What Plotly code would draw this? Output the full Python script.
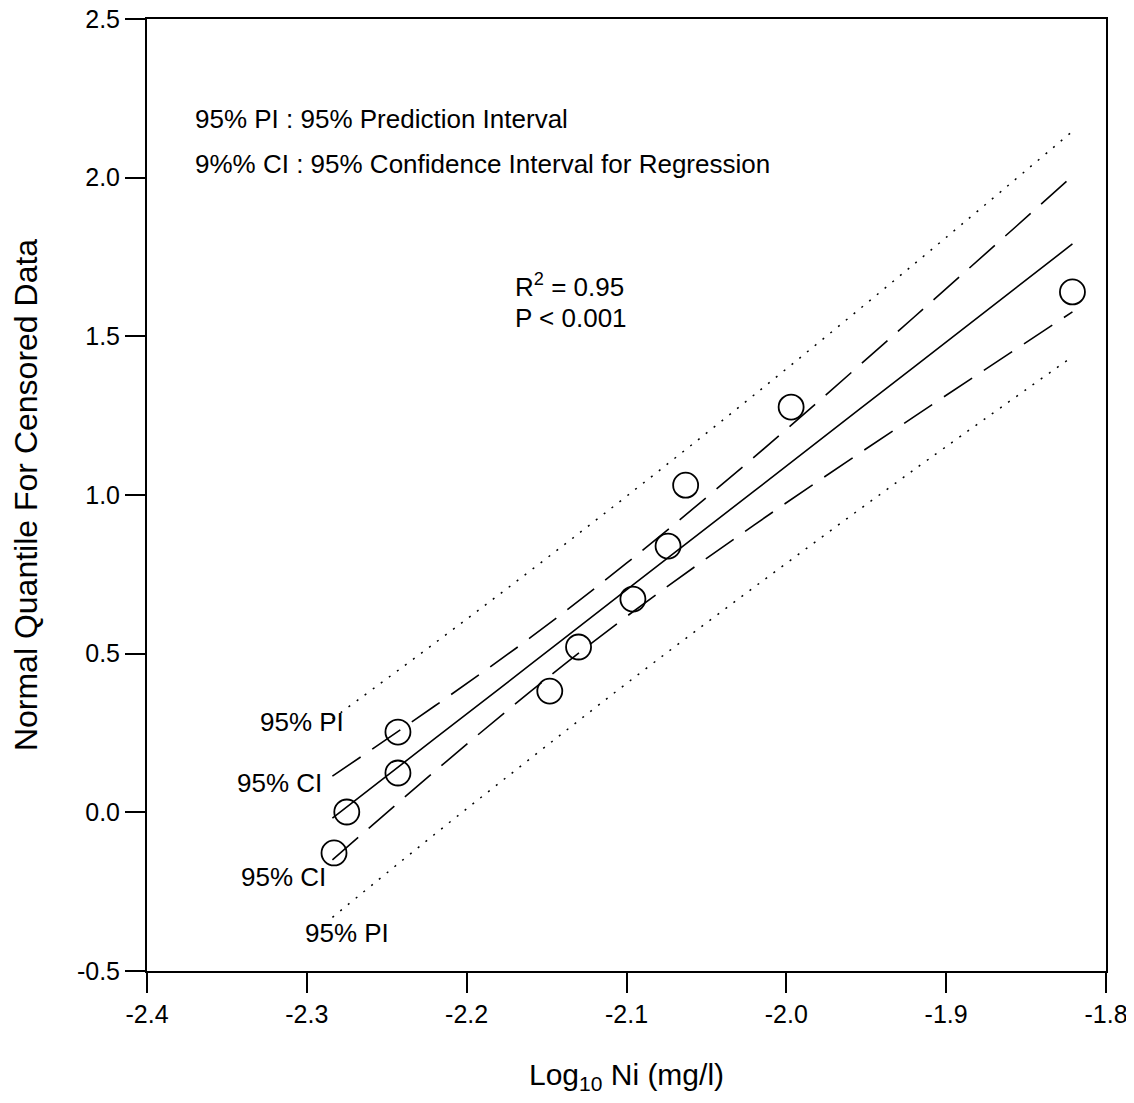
import plotly.graph_objects as go

# Observed data (log10 Ni vs normal quantile)
obs_x = [-2.243, -2.243, -2.275, -2.283, -2.148, -2.130, -2.096, -2.074, -2.063, -1.997, -1.821]
obs_y = [0.253, 0.124, 0.001, -0.128, 0.382, 0.521, 0.672, 0.839, 1.031, 1.277, 1.640]

# Curves
curve_x = [-2.284, -2.22, -2.16, -2.10, -2.02, -1.92, -1.821]
reg_y = [-0.018, 0.232, 0.466, 0.701, 1.013, 1.404, 1.791]
ci_up = [0.114, 0.335, 0.551, 0.785, 1.120, 1.561, 2.005]
ci_lo = [-0.150, 0.129, 0.381, 0.617, 0.906, 1.247, 1.577]
pi_up = [0.295, 0.533, 0.762, 0.996, 1.316, 1.728, 2.146]
pi_lo = [-0.331, -0.069, 0.170, 0.406, 0.710, 1.080, 1.436]

x_ticks = [-2.4, -2.3, -2.2, -2.1, -2.0, -1.9, -1.8]
y_ticks = [-0.5, 0.0, 0.5, 1.0, 1.5, 2.0, 2.5]

FONT = "Liberation Sans, Arial, sans-serif"

fig = go.Figure()
fig.add_trace(go.Scatter(x=curve_x, y=pi_up, mode="lines", line=dict(color="black", width=1.5, dash="2px,8px"), line_shape="spline"))
fig.add_trace(go.Scatter(x=curve_x, y=pi_lo, mode="lines", line=dict(color="black", width=1.5, dash="2px,8px"), line_shape="spline"))
fig.add_trace(go.Scatter(x=curve_x, y=ci_up, mode="lines", line=dict(color="black", width=1.6, dash="34px,14px"), line_shape="spline"))
fig.add_trace(go.Scatter(x=curve_x, y=ci_lo, mode="lines", line=dict(color="black", width=1.6, dash="34px,14px"), line_shape="spline"))
fig.add_trace(go.Scatter(x=curve_x, y=reg_y, mode="lines", line=dict(color="black", width=1.6), line_shape="spline"))
fig.add_trace(go.Scatter(x=obs_x, y=obs_y, mode="markers",
                         marker=dict(symbol="circle-open", size=25, color="black", line=dict(width=1.8, color="black"))))

# page body has an 8px margin: figure sized to fit the window, coordinates in page pixels
OFF = 8
FIG_W, FIG_H = 1134 - 2 * OFF, 1103 - 2 * OFF
W0, W1, H0, H1 = 147, 1106, 19, 971  # plot area in page pixels


def px(xp):
    return (xp - W0) / (W1 - W0)


def py(yp):
    return (H1 - yp) / (H1 - H0)


def ann(x, y, text, xanchor="left"):
    fig.add_annotation(x=px(x), y=py(y), xref="paper", yref="paper", text=text, showarrow=False,
                       xanchor=xanchor, yanchor="middle", font=dict(family=FONT, size=26, color="black"))


ann(193, 119, "95% PI : 95% Prediction Interval")
ann(193, 164, "9%% CI : 95% Confidence Interval for Regression")
ann(513, 285, "R<sup>2</sup> = 0.95")
ann(513, 318, "P < 0.001")
ann(346, 722, "95% PI", "right")
ann(324, 783, "95% CI", "right")
ann(328, 877, "95% CI", "right")
ann(303, 933, "95% PI", "left")

fig.update_layout(
    width=FIG_W, height=FIG_H,
    margin=dict(l=W0 - OFF, r=FIG_W - (W1 - OFF), t=H0 - OFF, b=FIG_H - (H1 - OFF)),
    paper_bgcolor="white", plot_bgcolor="white",
    showlegend=False,
    font=dict(family=FONT, color="black"),
    xaxis=dict(range=[-2.4, -1.8], tickvals=x_ticks, ticktext=[f"{v:.1f}" for v in x_ticks],
               ticks="outside", ticklen=20, tickwidth=1.5, tickcolor="black",
               showline=True, linecolor="black", linewidth=2, mirror=True,
               showgrid=False, zeroline=False, tickfont=dict(size=25),
               ticklabeloverflow="allow", automargin=False,
               title=dict(text="Log<sub>10</sub> Ni (mg/l)", font=dict(size=30), standoff=37)),
    yaxis=dict(range=[-0.5, 2.5], tickvals=y_ticks, ticktext=[f"{v:.1f}" for v in y_ticks],
               ticks="outside", ticklen=20, tickwidth=1.5, tickcolor="black",
               showline=True, linecolor="black", linewidth=2, mirror=True,
               showgrid=False, zeroline=False, tickfont=dict(size=25),
               ticklabeloverflow="allow", automargin=False,
               title=dict(text="Normal Quantile For Censored Data", font=dict(size=32), standoff=30)),
)

fig.write_html("out.html", config={"displayModeBar": False})
